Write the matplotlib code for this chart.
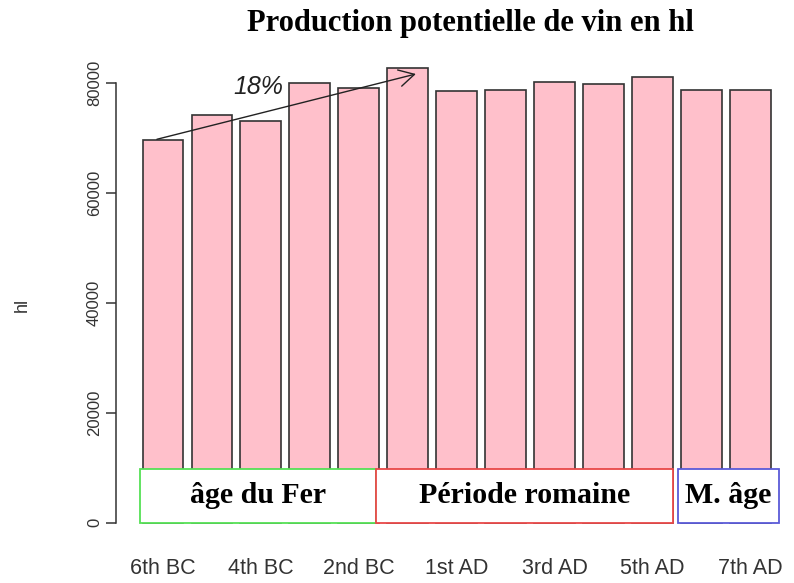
import matplotlib
matplotlib.use("Agg")
import matplotlib.pyplot as plt
from matplotlib.patches import Rectangle

plt.rcParams['font.family'] = ['Liberation Sans', 'DejaVu Sans']

# data
siecles = ['6th BC', '5th BC', '4th BC', '3rd BC', '2nd BC', '1st BC', '1st AD',
           '2nd AD', '3rd AD', '4th AD', '5th AD', '6th AD', '7th AD']
prod_hl = [69700, 74200, 73150, 79950, 79050, 82650, 78550,
           78800, 80100, 79850, 81150, 78800, 78800]
y_ticks = [0, 20000, 40000, 60000, 80000]

# periods drawn as boxes at the foot of the bars (x in bar units)
periodes = ['âge du Fer', 'Période romaine', 'M. âge']
per_debut = [0.14, 5.92, 13.32]
per_fin = [5.92, 13.2, 15.8]
per_couleur = ['#55e055', '#e84848', '#5a5ad8']
box_haut = 9800

# growth arrow
fleche_de = (0.55, 69760)
fleche_a = (6.9, 81640)
fleche_txt = '18%'

fig = plt.figure(figsize=(7.94, 5.83), dpi=100)
ax = fig.add_axes([116/794, 0.072, 1 - 116/794, 0.842])

x = [0.7 + 1.2*i for i in range(len(siecles))]
ax.bar(x, prod_hl, width=1.0, color='#ffc0cb', edgecolor='#333333', linewidth=1.2)

for lab, d, f, c in zip(periodes, per_debut, per_fin, per_couleur):
    ax.add_patch(Rectangle((d, 0), f - d, box_haut, facecolor='white',
                           edgecolor=c, linewidth=1.3, zorder=3))
    ax.text((d + f)/2, box_haut/2, lab, ha='center', va='center', zorder=4,
            fontsize=21.5, fontweight='bold', family='Liberation Serif')

ax.annotate('', xy=fleche_a, xytext=fleche_de,
            arrowprops=dict(arrowstyle='->,head_length=0.55,head_width=0.3',
                            color='#222222', lw=1.0, mutation_scale=20,
                            shrinkA=0, shrinkB=0), zorder=5)
ax.text(3.03, 79270, fleche_txt, ha='center', va='center', fontsize=18,
        style='italic', color='#222222')

ax.set_xlim(-0.452, 16.17)
ax.set_ylim(-3307, 85977)

for s in ['top', 'right', 'bottom']:
    ax.spines[s].set_visible(False)
ax.spines['left'].set_bounds(0, 80000)
ax.spines['left'].set_linewidth(1.1)
ax.spines['left'].set_color('#333333')

ax.set_yticks(y_ticks)
ax.set_yticklabels([str(v) for v in y_ticks], rotation=90, va='center',
                   fontsize=12, color='#333333')
ax.tick_params(axis='y', length=7, width=1.1, color='#333333', pad=3)

ax.set_xticks(x[::2])
ax.set_xticklabels(siecles[::2], fontsize=15.5, color='#333333')
ax.tick_params(axis='x', length=0, pad=12)

fig.text(22/794, 1 - 305/583, 'hl', rotation=90, ha='center', va='center',
         fontsize=13, color='#333333')
fig.text(470/794, 1 - 23/583, 'Production potentielle de vin en hl',
         ha='center', va='center', fontsize=22, fontweight='bold',
         family='Liberation Serif')

fig.savefig('out.png', dpi=100)
